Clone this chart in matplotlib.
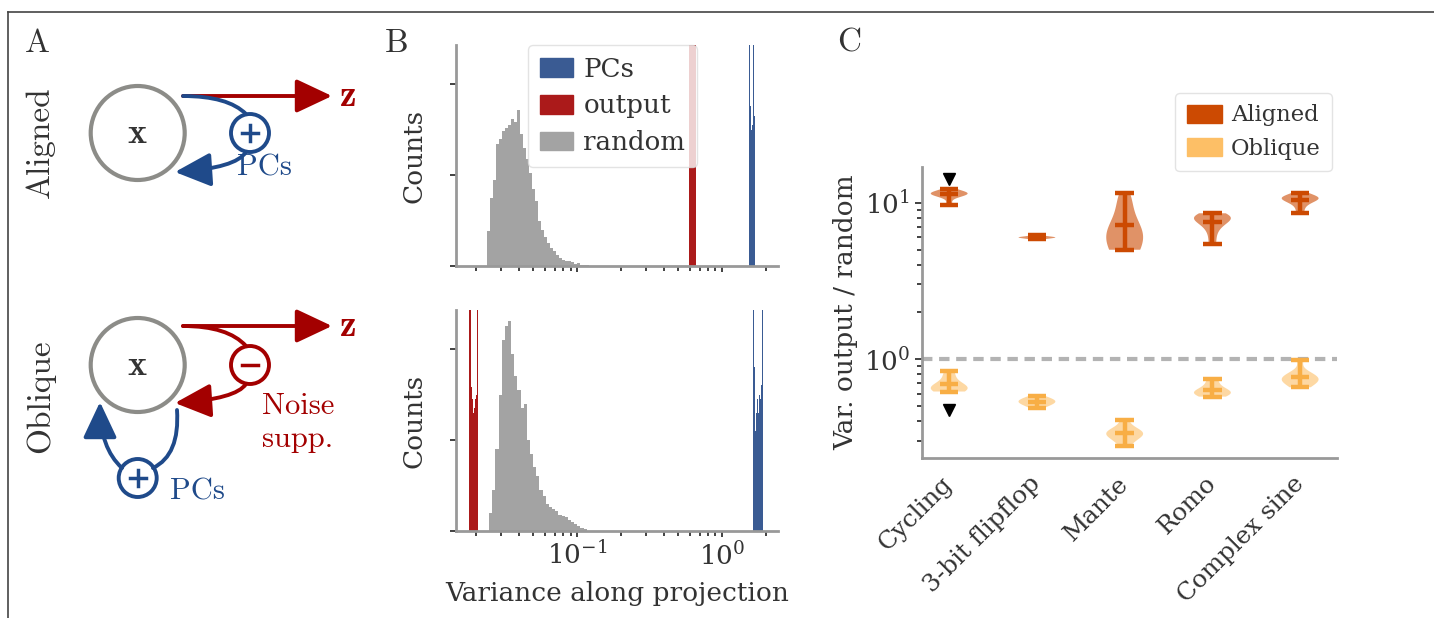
import numpy as np
import matplotlib
matplotlib.use("Agg")
import matplotlib.pyplot as plt
from matplotlib.patches import Circle, FancyArrowPatch, Patch
from matplotlib.path import Path
from matplotlib.lines import Line2D
from matplotlib.transforms import ScaledTranslation

plt.rcParams['font.family'] = 'DejaVu Serif'
plt.rcParams['mathtext.fontset'] = 'dejavuserif'
plt.rcParams['text.color'] = '#333333'
plt.rcParams['axes.labelcolor'] = '#333333'
plt.rcParams['xtick.color'] = '#333333'
plt.rcParams['ytick.color'] = '#333333'

# ---- panel B data: histogram counts (arb. units) on log-spaced bins
rand_top_range = (0.024, 0.121)
rand_top = [0.39, 0.75, 0.95, 1.34, 1.40, 1.48, 1.52, 1.55, 1.62, 1.58, 1.72, 1.45,
            1.30, 1.18, 1.02, 0.85, 0.72, 0.50, 0.40, 0.32, 0.25, 0.20, 0.17, 0.12,
            0.09, 0.07, 0.06, 0.05, 0.04, 0.02, 0.03, 0.01, 0.01, 0.01]
out_top_range = (0.59, 0.66)
out_top = [3.0, 3.0, 3.0]
pcs_top_range = (1.535, 1.69)
pcs_top = [3.0, 1.76, 1.49, 1.55, 3.0, 1.65]

rand_bot_range = (0.0247, 0.1164)
rand_bot = [0.20, 0.45, 0.90, 1.50, 2.10, 2.25, 2.31, 1.95, 1.70, 1.55, 1.35, 1.40,
            1.00, 0.85, 0.70, 0.60, 0.45, 0.38, 0.30, 0.26, 0.24, 0.22, 0.18, 0.16,
            0.15, 0.12, 0.10, 0.08, 0.06, 0.03, 0.02]
out_bot_range = (0.018, 0.0208)
out_bot = [3.0, 2.6, 1.58, 1.45, 1.30, 1.35, 1.45, 1.50, 3.0]
pcs_bot_range = (1.64, 1.92)
pcs_bot = [3.0, 1.80, 1.10, 1.30, 1.45, 1.30, 1.50, 1.45, 1.60, 3.0]

# ---- panel C data: var. output / random per task
tasks = ['Cycling', '3-bit flipflop', 'Mante', 'Romo', 'Complex sine']
aligned = [
    [9.7, 10.9, 11.2, 11.3, 11.4, 11.5, 11.6, 11.8, 12.2],
    [5.85, 5.95, 6.0, 6.0, 6.05, 6.2],
    [5.0, 5.2, 5.5, 5.8, 6.2, 6.8, 7.6, 8.8, 10.0, 11.5],
    [5.4, 6.6, 7.3, 7.7, 7.9, 8.0, 8.1, 8.2, 8.55],
    [8.6, 9.6, 10.2, 10.5, 10.6, 10.7, 10.8, 11.0, 11.5],
]
oblique = [
    [0.62, 0.63, 0.64, 0.65, 0.66, 0.68, 0.72, 0.78, 0.84],
    [0.49, 0.51, 0.52, 0.53, 0.54, 0.55, 0.56, 0.58],
    [0.28, 0.31, 0.32, 0.33, 0.335, 0.34, 0.35, 0.37, 0.41],
    [0.575, 0.59, 0.60, 0.61, 0.62, 0.63, 0.66, 0.70, 0.745],
    [0.66, 0.70, 0.72, 0.74, 0.75, 0.76, 0.78, 0.83, 0.985],
]
outlier_above = 14.2   # Cycling aligned, out of range marker
outlier_below = 0.472  # Cycling oblique

c_pcs = '#3a5b93'
c_out = '#ab1a1a'
c_rand = '#a3a3a3'
c_al = '#cc4a02'
c_ob = '#fdbf66'
c_ob_line = '#f8ae45'
c_spine = '#999999'
red = '#a30000'
blue = '#1f4a8a'

W, H = 1434, 618
fig = plt.figure(figsize=(W / 100, H / 100), dpi=100)

# frame lines (top and left)
fig.add_artist(Line2D([8 / W, 8 / W], [0, 1 - 12 / H], transform=fig.transFigure, color='#444444', lw=1.2))
fig.add_artist(Line2D([8 / W, 1], [1 - 12 / H, 1 - 12 / H], transform=fig.transFigure, color='#444444', lw=1.2))

# ================= panel A: schematic =================
axA = fig.add_axes([0, 0, 400 / W, 1])
axA.set_xlim(0, 400)
axA.set_ylim(H, 0)
axA.axis('off')
cm = dict(family='cmr10', fontsize=22)
head = '-|>,head_length=1.7,head_width=0.8'


def curve(p0, c, p1, color, arrow=False):
    path = Path([p0, c, p1], [Path.MOVETO, Path.CURVE3, Path.CURVE3])
    axA.add_patch(FancyArrowPatch(path=path, arrowstyle=head if arrow else '-', mutation_scale=13,
                                  color=color, lw=2.8, shrinkA=0, shrinkB=0))


def small_circle(cx, cy, color, sign):
    axA.add_patch(Circle((cx, cy), 19, fill=False, ec=color, lw=2.8))
    axA.plot([cx - 8, cx + 8], [cy, cy], color=color, lw=2.5)
    if sign == '+':
        axA.plot([cx, cx], [cy - 8, cy + 8], color=color, lw=2.5)


for cy, lab in [(133, 'Aligned'), (365, 'Oblique')]:
    axA.add_patch(Circle((137.7, cy), 47, fill=False, ec='#8c8c88', lw=3))
    axA.text(137.7, cy, r'$\mathbf{x}$', math_fontfamily='cm', fontsize=26,
             ha='center', va='center', color='#333333')
    axA.text(40, cy + (9 if lab == 'Aligned' else 31), lab, rotation=90, ha='center', va='center',
             family='cmr10', fontsize=24)

# top: aligned
zy = 96
axA.add_patch(FancyArrowPatch((183, zy), (332, zy), arrowstyle=head,
                              mutation_scale=13, color=red, lw=2.8, shrinkA=0, shrinkB=0))
axA.text(347, zy, r'$\mathbf{z}$', math_fontfamily='cm', fontsize=27, color=red, ha='center', va='center')
curve((183, zy), (228, zy), (246, 114), blue)
small_circle(250, 133, blue, '+')
curve((246, 152), (236, 168), (175, 172), blue, arrow=True)
axA.text(237, 176, 'PCs', color=blue, ha='left', va='baseline', **cm)

# bottom: oblique
zy = 326
axA.add_patch(FancyArrowPatch((183, zy), (332, zy), arrowstyle=head,
                              mutation_scale=13, color=red, lw=2.8, shrinkA=0, shrinkB=0))
axA.text(347, zy, r'$\mathbf{z}$', math_fontfamily='cm', fontsize=27, color=red, ha='center', va='center')
curve((183, zy), (228, zy), (246, 346), red)
small_circle(250, 365, red, '-')
curve((246, 384), (236, 399), (175, 403), red, arrow=True)
axA.text(262, 393, 'Noise\nsupp.', color=red, ha='left', va='top', linespacing=1.25, **cm)
curve((177, 410), (180, 455), (153, 468), blue)
small_circle(137.7, 478, blue, '+')
curve((122, 468), (100, 448), (100, 402), blue, arrow=True)
axA.text(170, 500, 'PCs', color=blue, ha='left', va='baseline', **cm)

axA.text(25, 52, 'A', va='baseline', family='cmr10', fontsize=24)
axA.text(385, 52, 'B', va='baseline', family='cmr10', fontsize=24, clip_on=False)

# ================= panel B: histograms =================
axB1 = fig.add_axes([456 / W, 1 - 266 / H, 322 / W, 221 / H])
axB2 = fig.add_axes([456 / W, 1 - 531 / H, 322 / W, 221 / H], sharex=axB1)


def hist(ax, counts, rng, color):
    edges = np.geomspace(rng[0], rng[1], len(counts) + 1)
    ax.stairs(counts, edges, fill=True, color=color)


hist(axB1, pcs_top, pcs_top_range, c_pcs)
hist(axB1, out_top, out_top_range, c_out)
hist(axB1, rand_top, rand_top_range, c_rand)
hist(axB2, rand_bot, rand_bot_range, c_rand)
hist(axB2, out_bot, out_bot_range, c_out)
hist(axB2, pcs_bot, pcs_bot_range, c_pcs)

for ax in (axB1, axB2):
    ax.set_xscale('log')
    ax.set_xlim(0.0146, 2.43)
    ax.set_ylim(0, 2.43)
    ax.set_yticks([0, 1, 2])
    ax.set_yticklabels([])
    ax.set_ylabel('Counts', fontsize=19, labelpad=14)
    for s in ('top', 'right'):
        ax.spines[s].set_visible(False)
    for s in ('left', 'bottom'):
        ax.spines[s].set_color(c_spine)
        ax.spines[s].set_linewidth(2)
    ax.tick_params(which='both', length=4, width=1.3, labelsize=19)
    ax.tick_params(which='minor', length=3.5)
plt.setp(axB1.get_xticklabels(), visible=False)
axB2.set_xlabel('Variance along projection', fontsize=19, labelpad=8)
axB1.legend([Patch(color=c_pcs), Patch(color=c_out), Patch(color=c_rand)], ['PCs', 'output', 'random'],
            loc='upper left', bbox_to_anchor=(0.224, 1.0), borderaxespad=0,
            fontsize=18.8, framealpha=0.8, edgecolor='#dddddd', handlelength=1.25,
            handleheight=0.7, handletextpad=0.42, borderpad=0.45, labelspacing=0.45)

# ================= panel C: violins =================
axC = fig.add_axes([922 / W, 1 - 458 / H, 415 / W, 291 / H])
pos = np.arange(len(tasks))
axC.set_yscale('log')
for data, col, lcol in [(aligned, c_al, c_al), (oblique, c_ob, c_ob_line)]:
    parts = axC.violinplot(data, positions=pos, widths=0.42, showmeans=True, showextrema=True)
    for b in parts['bodies']:
        b.set_facecolor(col)
        b.set_edgecolor('none')
        b.set_alpha(0.6)
    for k in ('cmaxes', 'cmins', 'cbars', 'cmeans'):
        parts[k].set_color(lcol)
        parts[k].set_linewidth(3.2)
axC.plot([0], [outlier_above], 'v', color='black', ms=9)
axC.plot([0], [outlier_below], 'v', color='black', ms=9)
axC.axhline(1, color='#b3b3b3', lw=3, ls=(0, (2.5, 1.6)), zorder=0)
axC.set_xlim(-0.31, 4.42)
axC.set_ylim(0.233, 16.9)
axC.set_xticks(pos)
axC.set_xticklabels(tasks, rotation=45, ha='right', va='center', rotation_mode='anchor')
shift = ScaledTranslation(-7 / 72, 0, fig.dpi_scale_trans)
for lbl in axC.get_xticklabels():
    lbl.set_transform(lbl.get_transform() + shift)
axC.tick_params(axis='x', length=0, pad=16, labelsize=17.7)
axC.tick_params(axis='y', which='major', length=5, width=1.3, labelsize=19, color='#333333')
axC.tick_params(axis='y', which='minor', length=3.5, width=1.3, color='#333333')
axC.set_ylabel('Var. output / random', fontsize=19)
for s in ('top', 'right'):
    axC.spines[s].set_visible(False)
for s in ('left', 'bottom'):
    axC.spines[s].set_color(c_spine)
    axC.spines[s].set_linewidth(2)
axC.legend([Patch(color=c_al), Patch(color=c_ob)], ['Aligned', 'Oblique'], loc='upper right',
           bbox_to_anchor=(0.988, 1.254), borderaxespad=0, fontsize=16.3, framealpha=0.8,
           edgecolor='#dddddd', handlelength=1.55, handleheight=0.85, handletextpad=0.4,
           borderpad=0.5, labelspacing=0.5)
fig.text(837 / W, 1 - 52 / H, 'C', family='cmr10', fontsize=24, va='baseline')

fig.savefig('out.png', dpi=100)
